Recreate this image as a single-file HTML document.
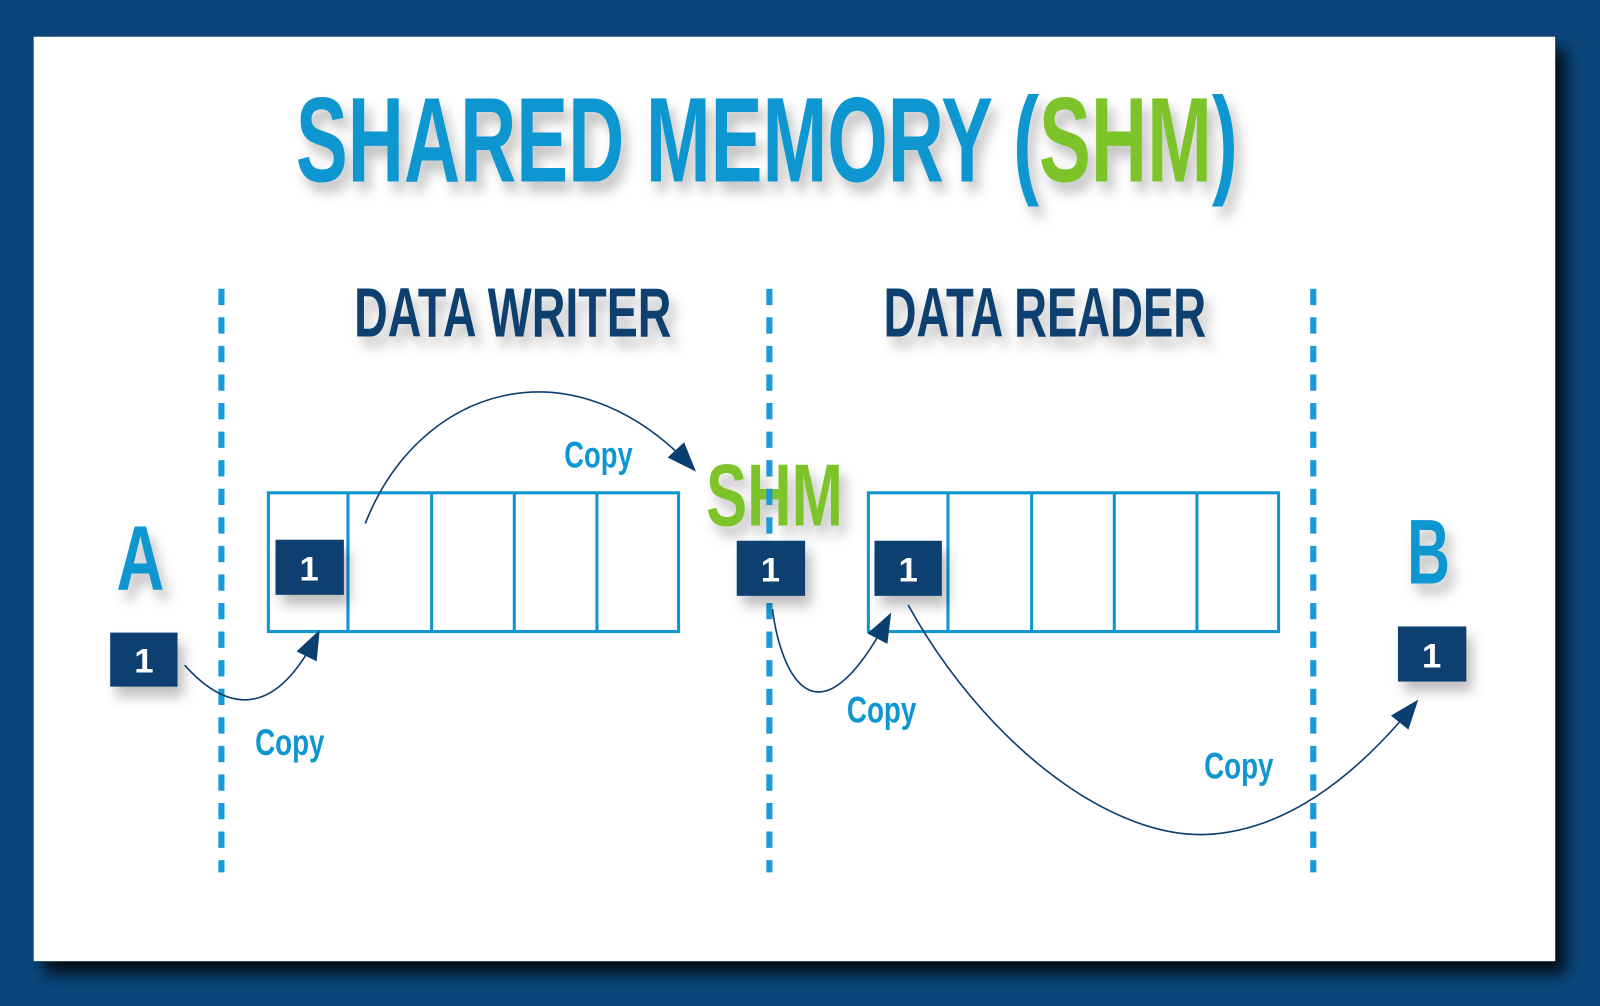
<!DOCTYPE html>
<html><head><meta charset="utf-8"><style>
html,body{margin:0;padding:0;background:#0b467b;}
svg{display:block}
text{font-family:"Liberation Sans Narrow","Liberation Sans",sans-serif;font-weight:bold}
</style></head><body>
<svg width="1600" height="1006" viewBox="0 0 1568 986" preserveAspectRatio="none" xmlns="http://www.w3.org/2000/svg">
<defs>
<filter id="sh" x="-20%" y="-20%" width="140%" height="160%"><feDropShadow dx="6" dy="10" stdDeviation="6" flood-color="#000" flood-opacity="0.25"/></filter>
<filter id="bs" x="-5%" y="-5%" width="110%" height="110%"><feDropShadow dx="10" dy="12" stdDeviation="8" flood-color="#000" flood-opacity="0.85"/></filter>
<marker id="ar" refX="0" refY="0" markerWidth="40" markerHeight="40" markerUnits="userSpaceOnUse" orient="auto" style="overflow:visible">
<path d="M-26,-11 L3,0 L-26,11 Z" fill="#0b3f70"/></marker>
</defs>
<rect width="1568" height="986" fill="#0b467b"/>
<rect x="33" y="36" width="1491" height="906" fill="#fff" filter="url(#bs)"/>
<g filter="url(#sh)">
<text x="290" y="178" font-size="118" fill="#0e96d0" textLength="923" lengthAdjust="spacingAndGlyphs">SHARED MEMORY (<tspan fill="#7dc42c">SHM</tspan>)</text>
<text x="347" y="330" font-size="68" fill="#0d3f6e" textLength="311" lengthAdjust="spacingAndGlyphs">DATA WRITER</text>
<text x="866" y="330" font-size="68" fill="#0d3f6e" textLength="316" lengthAdjust="spacingAndGlyphs">DATA READER</text>
<text x="692" y="515" font-size="86" fill="#7dc42c" textLength="134" lengthAdjust="spacingAndGlyphs">SHM</text>
<text x="114" y="578" font-size="90" fill="#0e96d0" textLength="47" lengthAdjust="spacingAndGlyphs">A</text>
<text x="1379" y="572" font-size="90" fill="#0e96d0" textLength="42" lengthAdjust="spacingAndGlyphs">B</text>
</g>
<g stroke="#1a9ad6" stroke-width="6" stroke-dasharray="16 12">
<line x1="217" y1="283" x2="217" y2="855"/><line x1="754" y1="283" x2="754" y2="855"/><line x1="1287" y1="283" x2="1287" y2="855"/>
</g>
<g fill="none" stroke="#0e96d0" stroke-width="3">
<rect x="263" y="483" width="402" height="136"/>
<line x1="341" y1="483" x2="341" y2="619"/><line x1="423" y1="483" x2="423" y2="619"/><line x1="504" y1="483" x2="504" y2="619"/><line x1="585" y1="483" x2="585" y2="619"/>
<rect x="851" y="483" width="402" height="136"/>
<line x1="929" y1="483" x2="929" y2="619"/><line x1="1011" y1="483" x2="1011" y2="619"/><line x1="1092" y1="483" x2="1092" y2="619"/><line x1="1173" y1="483" x2="1173" y2="619"/>
</g>
<g filter="url(#sh)">
<rect x="108" y="620" width="66" height="53" fill="#0b3f70"/>
<rect x="270" y="529" width="67" height="54" fill="#0b3f70"/>
<rect x="722" y="530" width="67" height="54" fill="#0b3f70"/>
<rect x="857" y="530" width="66" height="54" fill="#0b3f70"/>
<rect x="1370" y="614" width="67" height="54" fill="#0b3f70"/>
</g>
<g font-size="34" fill="#fff" text-anchor="middle">
<text x="141" y="659">1</text><text x="303" y="569">1</text><text x="755" y="570">1</text><text x="890" y="570">1</text><text x="1403" y="654">1</text>
</g>
<g fill="none" stroke="#0b3f70" stroke-width="1.6" marker-end="url(#ar)">
<path d="M181,652 C215,690 265,715 312,620"/>
<path d="M358,513 C410,380 560,330 680,460"/>
<path d="M757,597 C765,660 800,740 872,603"/>
<path d="M890,593 C960,720 1080,820 1180,818 C1260,815 1330,760 1388,688"/>
</g>
<g font-size="36" fill="#0e96d0">
<text x="553" y="458" textLength="67" lengthAdjust="spacingAndGlyphs">Copy</text>
<text x="250" y="740" textLength="68" lengthAdjust="spacingAndGlyphs">Copy</text>
<text x="830" y="708" textLength="68" lengthAdjust="spacingAndGlyphs">Copy</text>
<text x="1180" y="763" textLength="68" lengthAdjust="spacingAndGlyphs">Copy</text>
</g>
</svg>
</body></html>
